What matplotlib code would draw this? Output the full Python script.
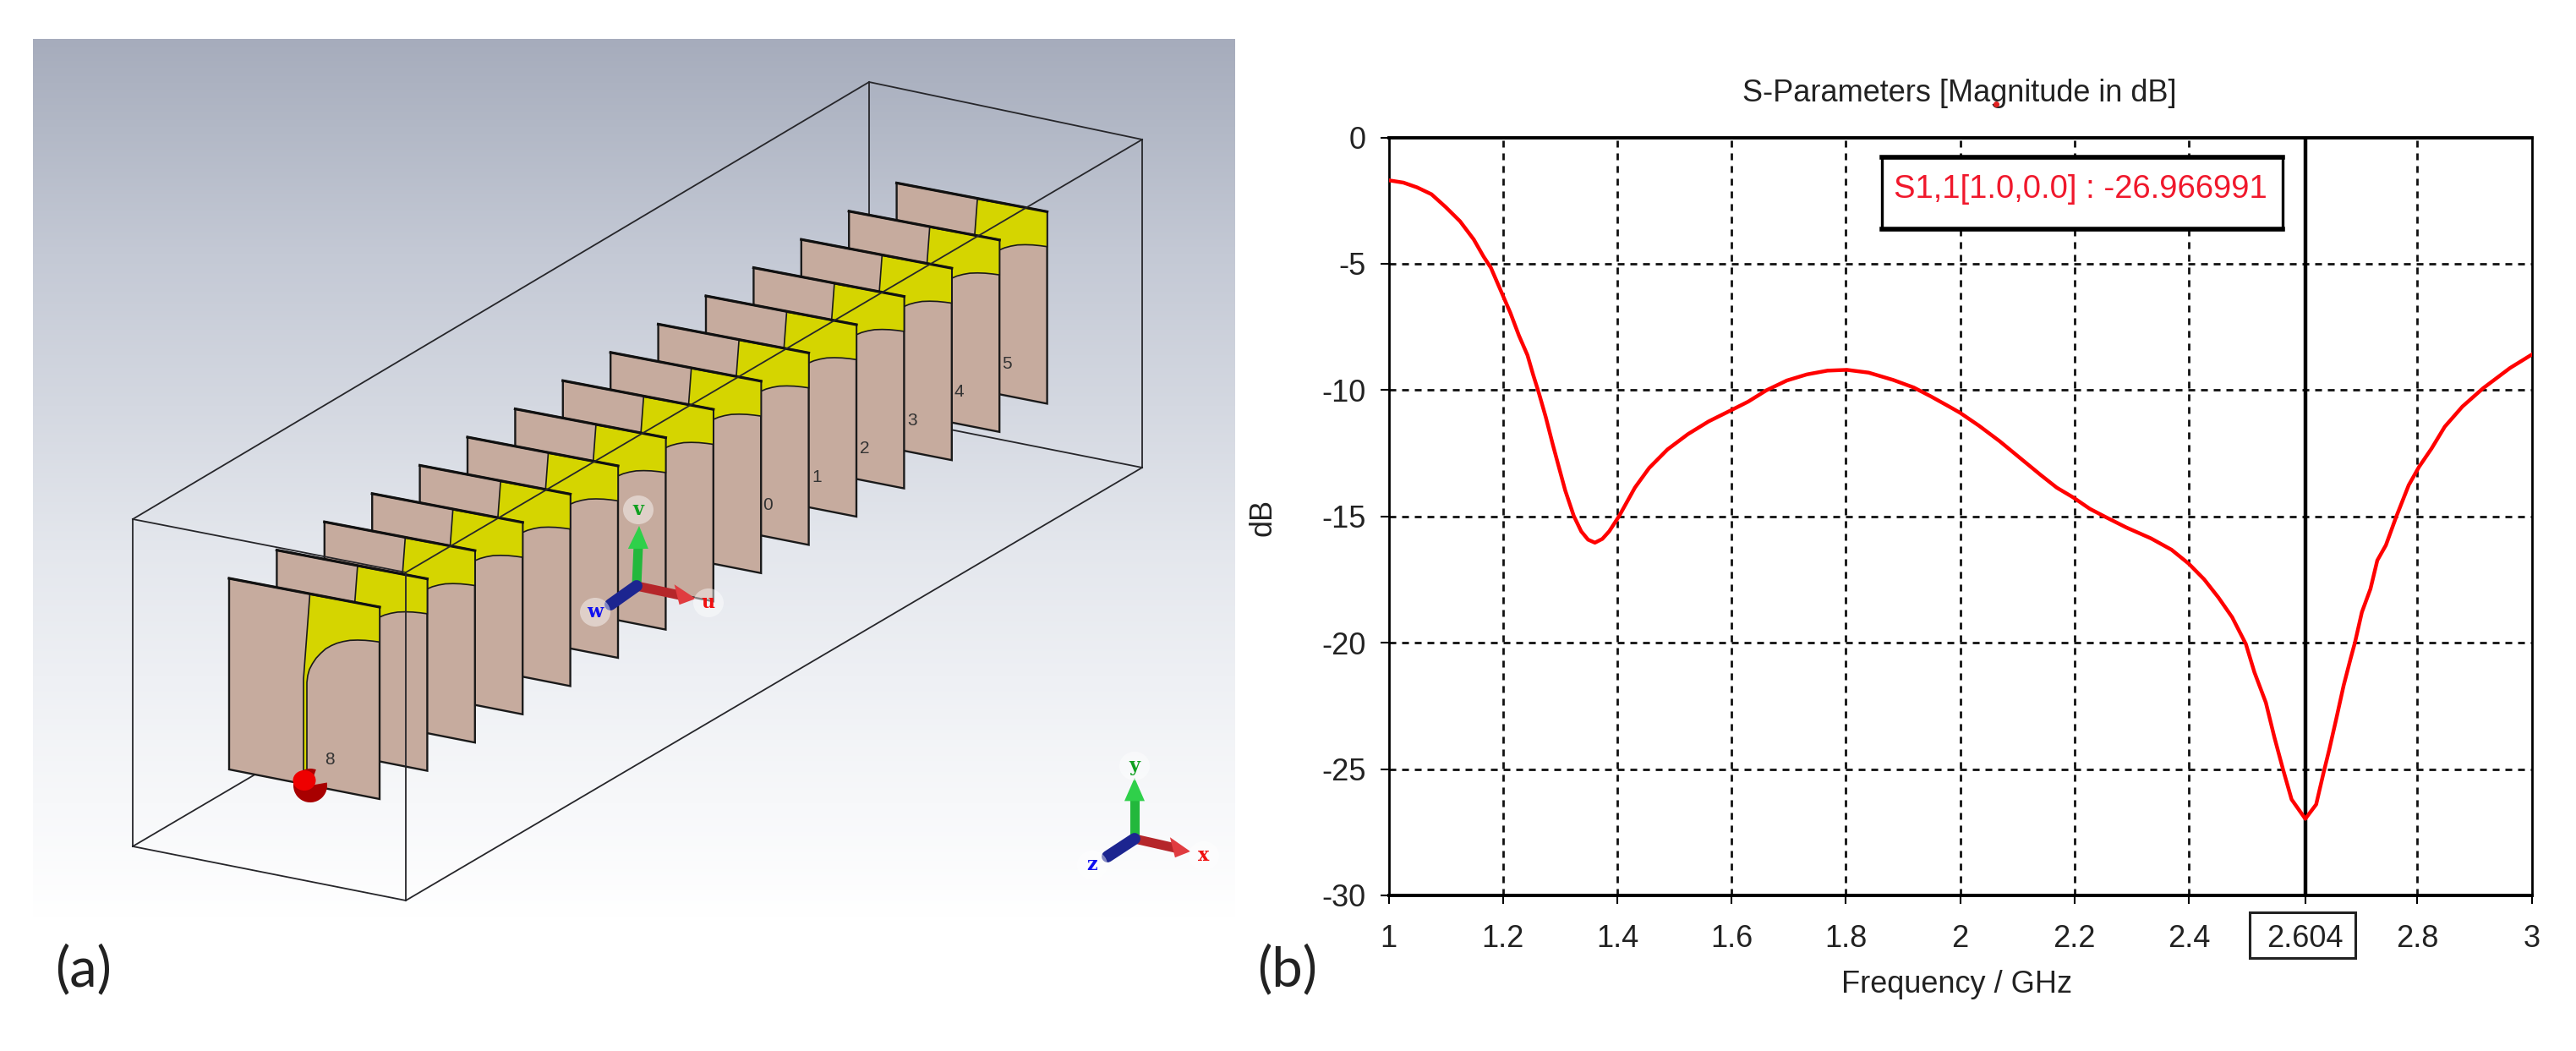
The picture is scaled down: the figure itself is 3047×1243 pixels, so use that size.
import numpy as np
import matplotlib
matplotlib.use("Agg")
import matplotlib.pyplot as plt
from matplotlib.patches import Polygon, Ellipse, Wedge, Rectangle

W, H = 3047, 1243
plt.rcParams['font.family'] = ['Liberation Sans', 'DejaVu Sans']

# ---------- S11 curve ----------
freq = [1.001, 1.026, 1.05, 1.075, 1.10, 1.125, 1.149, 1.166, 1.179, 1.196, 1.213, 1.228, 1.243, 1.253,
        1.263, 1.275, 1.287, 1.297, 1.309, 1.324, 1.337, 1.349, 1.361, 1.374, 1.386, 1.403, 1.431, 1.456,
        1.488, 1.524, 1.560, 1.6, 1.629, 1.661, 1.697, 1.732, 1.768, 1.802, 1.84, 1.883, 1.919, 1.948,
        1.983, 2.0, 2.033, 2.069, 2.105, 2.141, 2.169, 2.198, 2.227, 2.255, 2.291, 2.334, 2.37, 2.40,
        2.427, 2.452, 2.476, 2.50, 2.515, 2.535, 2.55, 2.565, 2.58, 2.604, 2.623, 2.636, 2.646, 2.658,
        2.671, 2.683, 2.691, 2.703, 2.718, 2.73, 2.745, 2.763, 2.785, 2.803, 2.825, 2.848, 2.879, 2.915,
        2.962, 3.0]
s11 = [-1.70, -1.79, -1.98, -2.25, -2.76, -3.32, -4.04, -4.71, -5.16, -6.05, -6.94, -7.84, -8.62, -9.40,
       -10.12, -11.07, -12.13, -12.97, -13.97, -14.98, -15.59, -15.92, -16.04, -15.89, -15.59, -15.0, -13.86, -13.08,
       -12.35, -11.74, -11.24, -10.79, -10.46, -10.01, -9.62, -9.38, -9.23, -9.20, -9.31, -9.60, -9.90, -10.24,
       -10.68, -10.90, -11.41, -12.02, -12.69, -13.36, -13.86, -14.25, -14.70, -15.03, -15.44, -15.87, -16.32, -16.87,
       -17.49, -18.21, -18.99, -20.05, -21.17, -22.37, -23.75, -25.01, -26.2, -26.97, -26.40, -25.14, -24.22, -23.03,
       -21.70, -20.65, -19.98, -18.79, -17.87, -16.74, -16.14, -15.02, -13.76, -13.04, -12.31, -11.45, -10.65, -9.93,
       -9.13, -8.60]
x_grid = [1.2, 1.4, 1.6, 1.8, 2.0, 2.2, 2.4, 2.8]
x_ticks = [1, 1.2, 1.4, 1.6, 1.8, 2, 2.2, 2.4, 2.604, 2.8, 3]
x_tick_labels = ['1', '1.2', '1.4', '1.6', '1.8', '2', '2.2', '2.4', '2.604', '2.8', '3']
y_ticks = [0, -5, -10, -15, -20, -25, -30]
cursor_x = 2.604
readout = 'S1,1[1.0,0.0] : -26.966991'

# ---------- 3D scene (figure pixel coordinates) ----------
grad_y = [46, 150, 300, 480, 650, 800, 950, 1085]
grad_v = [(166, 172, 188), (178, 184, 198), (196, 201, 213), (212, 216, 225),
          (228, 231, 237), (238, 240, 244), (247, 248, 250), (255, 255, 255)]
plate_origin = (271, 684)
plate_step = (56.4, -33.4)
n_plates = 15
plate_shape = [(0, 0), (178, 34), (178, 261), (0, 226)]
yellow_shape = [(95.5, 19), (178, 34), (178, 75.3), (170, 74.2), (161, 73.3), (152, 73), (143, 73.3), (135, 74.7),
                (127.6, 76.7), (121, 79.5), (114.3, 83.3), (108.5, 88.5), (103, 94.3), (98.5, 101), (95, 107.7),
                (93, 115), (92, 123), (92, 229), (88, 229), (88, 119)]
plate_labels = {14: ('5', 130), 13: ('4', 130), 12: ('3', 131), 11: ('2', 131), 10: ('1', 131), 9: ('0', 129),
                5: ('4', 115), 4: ('5', 115), 3: ('6', 115), 2: ('7', 115), 0: ('8', 119)}
box_back = [((157, 1001), (1028, 489)), ((1028, 97), (1028, 489)), ((1028, 489), (1351, 553))]
box_front = [((157, 614), (157, 1001)), ((157, 1001), (480, 1065)), ((157, 614), (480, 677)),
             ((480, 677), (480, 1065)), ((157, 614), (1028, 97)), ((480, 677), (1351, 165)),
             ((1028, 97), (1351, 165)), ((1351, 165), (1351, 553)), ((480, 1065), (1351, 553))]
triad_uvw = {'o': (753, 693), 'v': (756, 622), 'u': (823, 708), 'w': (722, 715),
             'lv': (755, 603), 'lu': (838, 713), 'lw': (704, 724)}
triad_xyz = {'o': (1342, 992), 'v': (1342, 920), 'u': (1408, 1007), 'w': (1310, 1013),
             'lv': (1342, 906), 'lu': (1424, 1012), 'lw': (1292, 1023)}

fig = plt.figure(figsize=(W / 100, H / 100), dpi=100, facecolor='white')
bg = fig.add_axes([0, 0, 1, 1])
bg.axis('off')

ys = np.arange(grad_y[0], grad_y[-1])
img = np.stack([np.interp(ys, grad_y, [c[i] for c in grad_v]) for i in range(3)], axis=1)[:, None, :] / 255
bg.imshow(img, extent=(39, 1461, grad_y[-1], grad_y[0]), aspect='auto', zorder=0)
bg.set_xlim(0, W)
bg.set_ylim(H, 0)

WIRE = '#26262a'
for p, q in box_back:
    bg.plot([p[0], q[0]], [p[1], q[1]], color=WIRE, lw=1.3, zorder=1)

for k in range(n_plates - 1, -1, -1):
    ox = plate_origin[0] + k * plate_step[0]
    oy = plate_origin[1] + k * plate_step[1]
    z = 10 + (n_plates - k) * 2
    if k in plate_labels and plate_labels[k][1] < 119:
        pass
    bg.add_patch(Polygon([(ox + a, oy + b) for a, b in plate_shape], closed=True, fc='#c6ab9e',
                         ec='#1a1a1a', lw=1.7, zorder=z))
    bg.add_patch(Polygon([(ox + a, oy + b) for a, b in yellow_shape], closed=True, fc='#d5d500',
                         ec='#1a1a1a', lw=1.2, zorder=z + 0.3))
    bg.plot([ox, ox + 178], [oy, oy + 34], color='#111111', lw=2.3, zorder=z + 0.5)
    if k in plate_labels:
        t, off = plate_labels[k]
        bg.text(ox + off, oy + 214, t, fontsize=15, color='#333333', ha='center', va='center', zorder=z + 0.6)

for p, q in box_front:
    bg.plot([p[0], q[0]], [p[1], q[1]], color=WIRE, lw=1.3, zorder=50)

# port sphere
bg.add_patch(Wedge((367, 929), 20, -10, 290, fc='#a80000', ec='none', zorder=55))
bg.add_patch(Ellipse((360, 923), 27, 24, fc='#ee0000', ec='none', zorder=56))


def triad(d, labels, fs):
    o, v, u, w = d['o'], d['v'], d['u'], d['w']
    z = 60
    bg.plot([o[0], o[0] + (v[0] - o[0]) * .72], [o[1], o[1] + (v[1] - o[1]) * .72], color='#22b83c', lw=8,
            solid_capstyle='butt', zorder=z)
    hx, hy = o[0] + (v[0] - o[0]) * .62, o[1] + (v[1] - o[1]) * .62
    bg.add_patch(Polygon([v, (hx - 12, hy), (hx + 12, hy)], fc='#2fd04a', ec='none', zorder=z))
    bg.plot([o[0], o[0] + (u[0] - o[0]) * .75], [o[1], o[1] + (u[1] - o[1]) * .75], color='#b5262a', lw=8,
            solid_capstyle='butt', zorder=z + 1)
    hx, hy = o[0] + (u[0] - o[0]) * .68, o[1] + (u[1] - o[1]) * .68
    bg.add_patch(Polygon([u, (hx - 3, hy - 12), (hx + 3, hy + 12)], fc='#e03c40', ec='none', zorder=z + 1))
    bg.plot([o[0], w[0]], [o[1], w[1]], color='#1c2590', lw=10, solid_capstyle='round', zorder=z + 2)
    for key, t, c in (('lv', labels[0], '#10a020'), ('lu', labels[1], '#f01010'), ('lw', labels[2], '#1010f0')):
        x, y = d[key]
        bg.add_patch(Ellipse((x, y), 36, 34, fc='white', ec='none', alpha=0.45, zorder=z + 3))
        bg.text(x, y, t, color=c, fontsize=fs, fontweight='bold', family='DejaVu Serif',
                ha='center', va='center', zorder=z + 4)


triad(triad_uvw, 'vuw', 16)
triad(triad_xyz, 'yxz', 16)

bg.text(99, 1147, '(a)', family='Lato', fontsize=47, color='#222222', ha='center', va='center')
bg.text(1523, 1147, '(b)', family='Lato', fontsize=47, color='#222222', ha='center', va='center')

# ---------- S-parameter plot ----------
L, R, T, B = 1642.5, 2994.5, 162.5, 1059
ax = fig.add_axes([L / W, 1 - B / H, (R - L) / W, (B - T) / H])
ax.set_xlim(1, 3)
ax.set_ylim(-30, 0)
ax.patch.set_alpha(0)

for xv in x_grid:
    ax.axvline(xv, color='#111111', lw=2.0, dashes=(2.9, 2.5), zorder=1)
for yv in y_ticks[1:-1]:
    ax.axhline(yv, color='#111111', lw=2.0, dashes=(2.9, 2.5), zorder=1)
ax.axvline(cursor_x, color='black', lw=3.2, zorder=3)
ax.plot(freq, s11, color='#ff0000', lw=3.2, solid_joinstyle='round', zorder=4)

for side, lw in (('top', 2.8), ('bottom', 2.8), ('left', 2.0), ('right', 2.0)):
    ax.spines[side].set_linewidth(lw)
    ax.spines[side].set_color('black')

ax.set_xticks(x_ticks)
ax.set_xticklabels(x_tick_labels)
ax.set_yticks(y_ticks)
ax.set_yticklabels([str(v) for v in y_ticks])
ax.tick_params(axis='x', length=7.5, width=1.5, labelsize=26, pad=17, labelcolor='#222222')
ax.tick_params(axis='y', length=7.5, width=1.5, labelsize=26, pad=12, labelcolor='#222222')

bg.text(2315, 1165, 'Frequency / GHz', fontsize=26, color='#222222', ha='center', va='center')
bg.text(1494, 612, 'dB', fontsize=26, color='#222222', rotation=90, ha='center', va='center')
bg.text(2318, 110, 'S-Parameters [Magnitude in dB]', fontsize=26, color='#222222', ha='center', va='center')
bg.plot([2361], [123], 'o', color='#e02020', ms=4, zorder=5)

top = fig.add_axes([0, 0, 1, 1])
top.set_xlim(0, W)
top.set_ylim(H, 0)
top.axis('off')
top.add_patch(Rectangle((2226, 186), 474, 85, fc='white', ec='black', lw=2.4, zorder=5))
top.plot([2226, 2700], [186, 186], color='black', lw=4, zorder=6)
top.plot([2226, 2700], [271, 271], color='black', lw=4, zorder=6)
top.text(2461, 224, readout, fontsize=27.5, color='#f0182c', ha='center', va='center', zorder=7)
top.add_patch(Rectangle((2661, 1079), 125, 54, fc='none', ec='#222222', lw=2.2, zorder=5))

fig.savefig('out.png', dpi=100, facecolor='white')
